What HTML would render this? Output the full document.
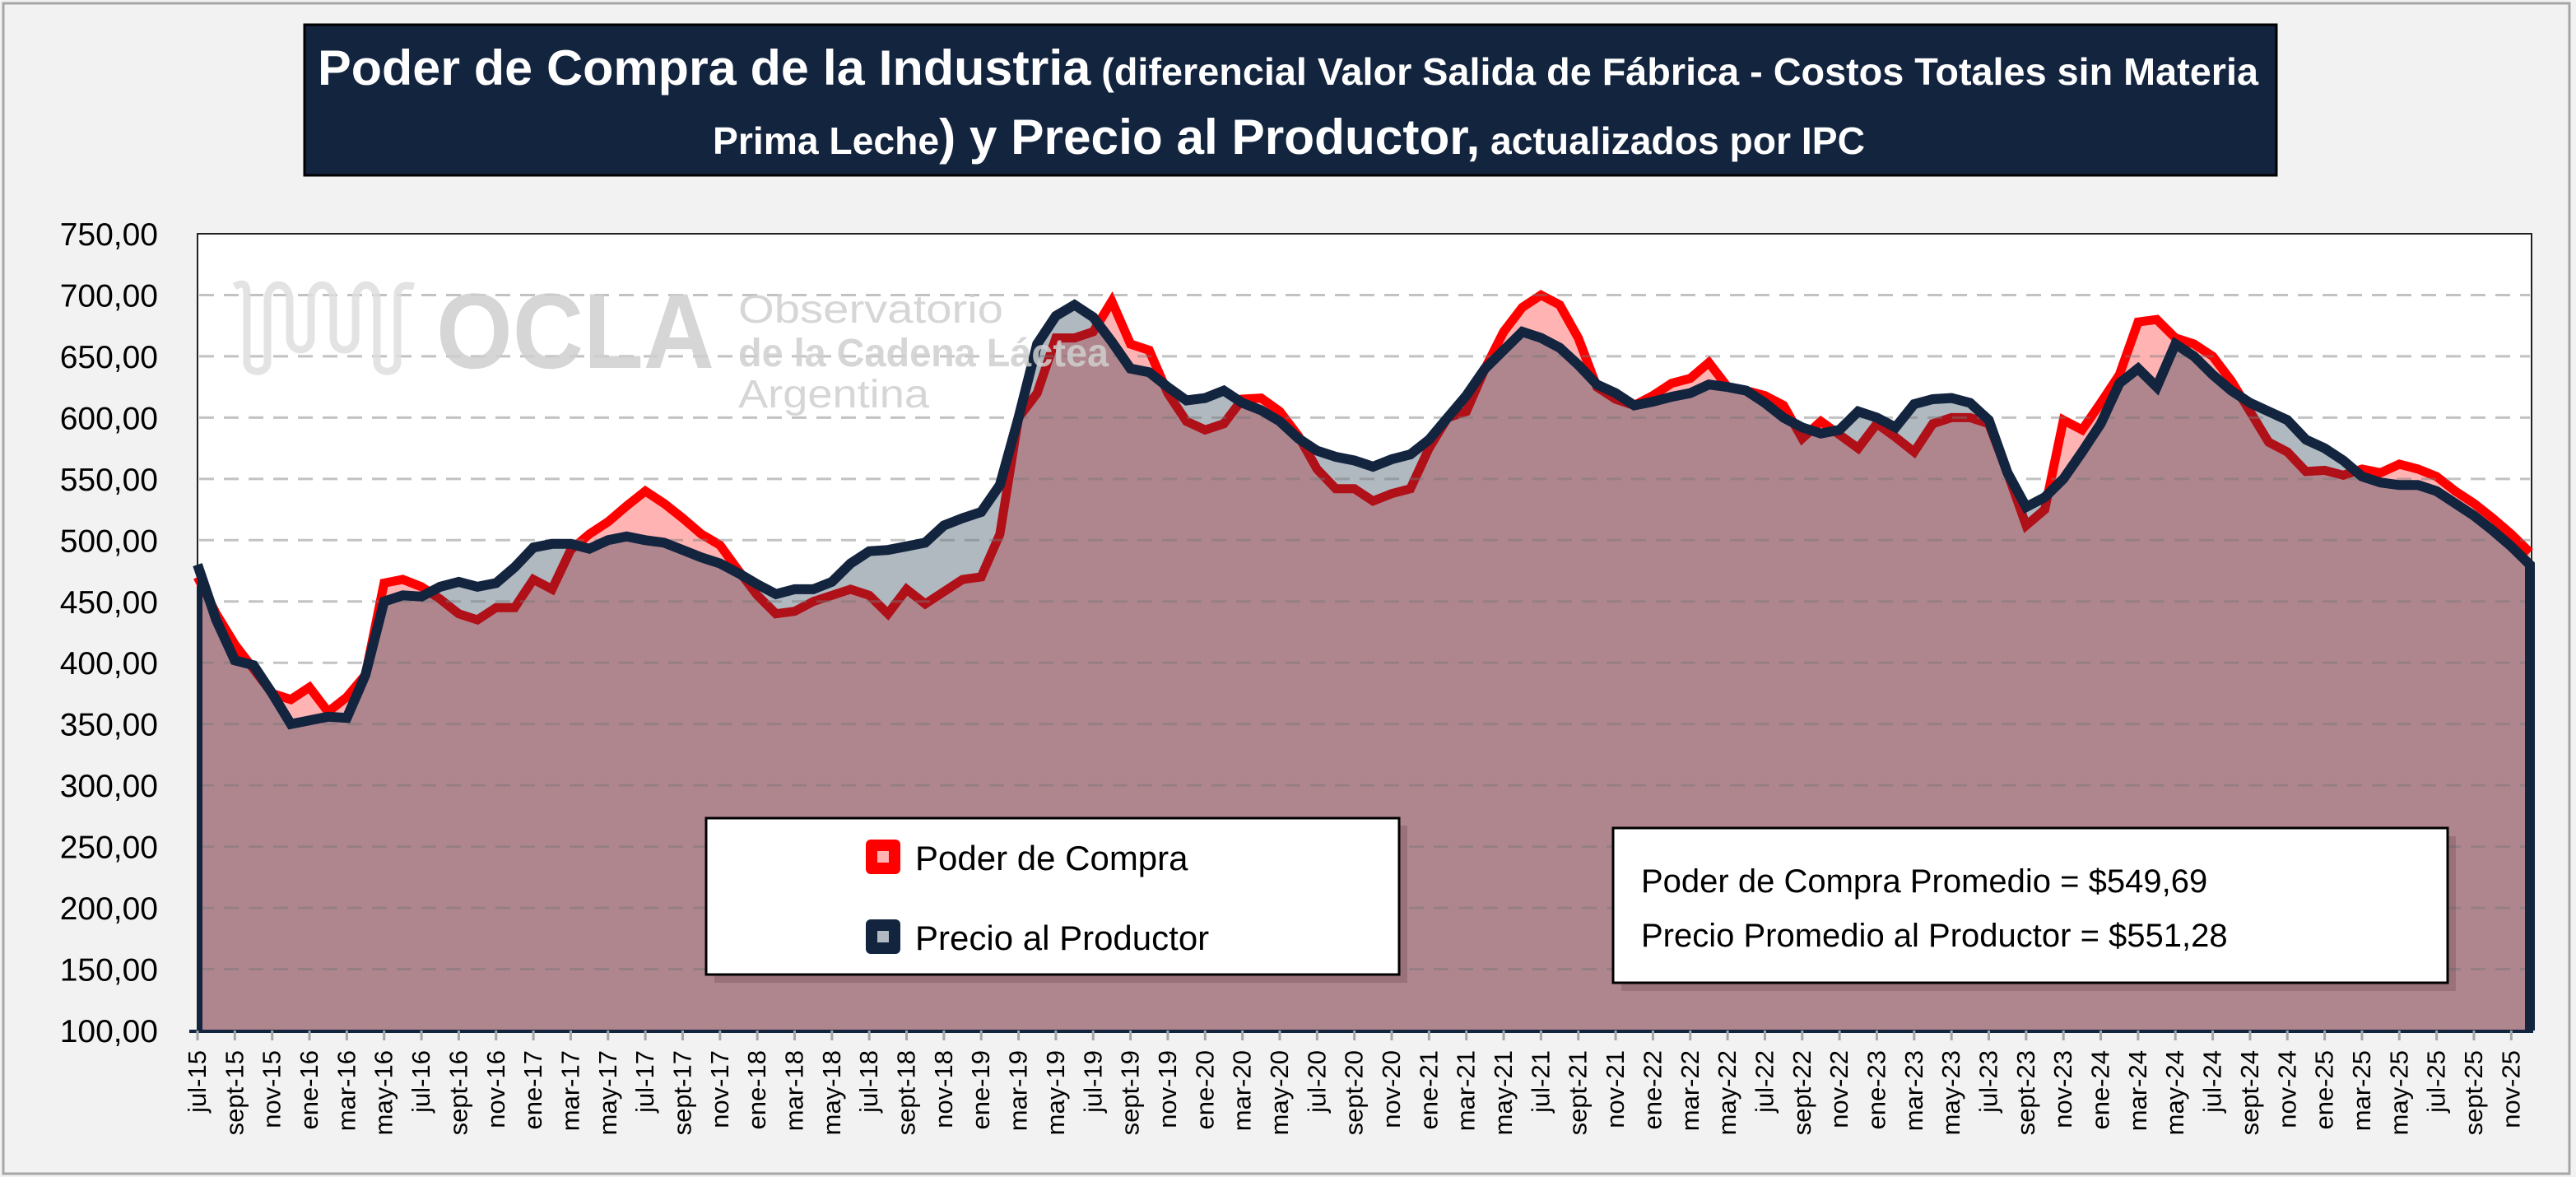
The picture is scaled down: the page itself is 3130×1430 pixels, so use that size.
<!DOCTYPE html>
<html><head><meta charset="utf-8"><style>
html,body{margin:0;padding:0;background:#f2f2f2;}
svg{display:block;font-family:"Liberation Sans",sans-serif;}
</style></head><body>
<svg id="chart" width="3130" height="1430" viewBox="0 0 3130 1430" xmlns="http://www.w3.org/2000/svg">
<rect x="4" y="4" width="3118" height="1422" fill="#f2f2f2" stroke="#a6a6a6" stroke-width="3"/>
<g>
<rect x="370" y="30" width="2396" height="183" fill="#13243f" stroke="#000" stroke-width="3"/>
<text x="386" y="103" fill="#fff" font-weight="bold" textLength="2358" lengthAdjust="spacingAndGlyphs"><tspan font-size="60">Poder de Compra de la Industria</tspan><tspan font-size="46"> (diferencial Valor Salida de Fábrica - Costos Totales sin Materia</tspan></text>
<text x="866" y="187" fill="#fff" font-weight="bold" textLength="1400" lengthAdjust="spacingAndGlyphs"><tspan font-size="46">Prima Leche</tspan><tspan font-size="60">) y Precio al Productor,</tspan><tspan font-size="46"> actualizados por IPC</tspan></text>
</g>
<rect x="240" y="284" width="2836" height="968" fill="#fff" stroke="#222" stroke-width="2"/>
<g id="series"></g>
<g id="grid"></g>
<g id="lines"></g>
<g id="watermark" fill="#cfcfcf" opacity="0.85">
<path d="M285,348 C300,340 300,350 300,360 L300,440 C300,455 325,455 325,440 L325,365 C325,340 352,340 352,365 L352,410 C352,430 378,430 378,410 L378,365 C378,340 405,340 405,365 L405,410 C405,430 432,430 432,410 L432,365 C432,340 458,340 458,365 L458,440 C458,455 483,455 483,440 L483,360 C483,348 490,345 503,348" fill="none" stroke="#dedede" stroke-width="9"/>
<text x="530" y="447" font-size="130" font-weight="bold" textLength="338" lengthAdjust="spacingAndGlyphs">OCLA</text>
<text x="897" y="392" font-size="48" textLength="322" lengthAdjust="spacingAndGlyphs">Observatorio</text>
<text x="897" y="445" font-size="48" font-weight="bold" textLength="450" lengthAdjust="spacingAndGlyphs">de la Cadena Láctea</text>
<text x="897" y="495" font-size="48" textLength="232" lengthAdjust="spacingAndGlyphs">Argentina</text>
</g>
<g id="axes"></g>
<g>
<rect x="868" y="1003" width="842" height="191" fill="#6e4a52" opacity="0.35"/>
<rect x="858" y="994" width="842" height="190" fill="#fff" stroke="#000" stroke-width="3"/>
<g>
<rect x="1052" y="1020" width="42" height="42" rx="6" fill="#ff0000"/>
<rect x="1066" y="1034" width="14" height="14" fill="#ffb3b3"/>
<text x="1112" y="1057" font-size="42" fill="#000">Poder de Compra</text>
</g>
<g>
<rect x="1052" y="1117" width="42" height="42" rx="6" fill="#13243f"/>
<rect x="1066" y="1131" width="14" height="14" fill="#b1b9c2"/>
<text x="1112" y="1154" font-size="42" fill="#000">Precio al Productor</text>
</g>
</g>
<g>
<rect x="1970" y="1016" width="1014" height="188" fill="#6e4a52" opacity="0.35"/>
<rect x="1960" y="1006" width="1014" height="188" fill="#fff" stroke="#000" stroke-width="3"/>
<text x="1994" y="1084" font-size="40" fill="#000">Poder de Compra Promedio = $549,69</text>
<text x="1994" y="1150" font-size="40" fill="#000">Precio Promedio al Productor = $551,28</text>
</g>
</svg>
<script>
const poderValues=[470,440,415,395,375,370,380,360,372,390,465,468,462,452,440,435,445,445,468,460,492,505,515,528,540,530,518,505,496,475,455,440,442,450,455,460,455,440,460,448,458,468,470,505,600,620,665,665,670,695,660,655,620,597,590,595,615,616,605,585,558,542,542,532,538,542,575,600,605,640,670,690,700,692,665,625,615,610,618,628,632,645,625,622,618,610,583,597,586,575,595,584,572,595,600,600,595,555,512,525,598,590,612,635,678,680,665,660,650,630,605,580,572,556,557,553,558,555,562,558,552,540,530,518,505,490];
const precioValues=[480,435,402,398,375,350,353,356,355,390,450,455,454,462,466,462,465,478,494,497,497,493,500,503,500,498,492,486,481,473,464,456,460,460,466,481,491,492,495,498,512,518,523,545,600,660,683,692,682,662,640,637,625,614,616,622,612,606,597,583,573,568,565,560,566,570,582,600,618,640,655,670,665,657,643,627,620,610,613,617,620,627,625,622,612,600,592,587,590,605,600,592,611,615,616,612,598,555,527,535,550,572,595,628,640,625,660,650,635,622,612,605,598,582,575,565,552,547,545,545,540,530,520,508,495,480];
const monthNames=["jul","ago","sept","oct","nov","dic","ene","feb","mar","abr","may","jun"];
const yTicks=[100,150,200,250,300,350,400,450,500,550,600,650,700,750];
const startYear=15;
const NS="http://www.w3.org/2000/svg";
const X0=240,X1=3074,Y0=1252,Y1=284,VMIN=100,VMAX=750;
const n=poderValues.length;
function xs(i){return X0+(X1-X0)*i/(n-1);}
function ys(v){return Y0-(v-VMIN)/(VMAX-VMIN)*(Y0-Y1);}
function mk(tag,attrs,parent){const e=document.createElementNS(NS,tag);for(const k in attrs)e.setAttribute(k,attrs[k]);parent.appendChild(e);return e;}
function linePts(arr){return arr.map((v,i)=>xs(i).toFixed(1)+","+ys(v).toFixed(1)).join(" ");}
function areaPts(arr){return xs(0)+","+Y0+" "+linePts(arr)+" "+xs(n-1)+","+Y0;}
const series=document.getElementById('series');
const redArea=mk('polygon',{points:areaPts(poderValues),fill:'#ffb3b3'},series);


const redLine=mk('polyline',{points:linePts(poderValues),fill:'none',stroke:'#ff0000','stroke-width':11,'stroke-linejoin':'miter'},series);


const blueArea=mk('polygon',{points:areaPts(precioValues),fill:'rgb(24,47,71)','fill-opacity':0.342},series);


const grid=document.getElementById('grid');
yTicks.forEach(v=>{
  if(v===VMIN||v===VMAX)return;
  const g=mk('line',{x1:X0+2,x2:X1,y1:ys(v),y2:ys(v),stroke:'rgba(120,120,120,0.45)','stroke-width':3,'stroke-dasharray':'18 12'},grid);
  
  
});
const lines=document.getElementById('lines');
const blueLine=mk('polyline',{points:linePts(precioValues)+" "+xs(n-1)+","+Y0,fill:'none',stroke:'#13243f','stroke-width':12,'stroke-linejoin':'miter'},lines);


const startEdge=mk('line',{x1:X0+3,x2:X0+3,y1:ys(precioValues[0]),y2:Y0,stroke:'#13243f','stroke-width':6},lines);


const axes=document.getElementById('axes');
mk('line',{x1:X0-10,x2:X1+4,y1:Y0+1,y2:Y0+1,stroke:'#13243f','stroke-width':4},axes);
yTicks.forEach(v=>{
  const t=mk('text',{x:192,y:ys(v)+14,'font-size':39,'text-anchor':'end',fill:'#000'},axes);
  t.textContent=v.toFixed(2).replace('.',',');
  
  
});
for(let i=0;i<n;i+=2){
  const x=xs(i);
  mk('line',{x1:x,x2:x,y1:Y0,y2:Y0+12,stroke:'#a6a6a6','stroke-width':3},axes);
  const m=i%12,yr=startYear+Math.floor((i+6)/12);
  const t=mk('text',{transform:'translate('+(x+10)+',1276) rotate(-90)','font-size':31,'text-anchor':'end',fill:'#000'},axes);
  t.textContent=monthNames[m]+"-"+yr;
  
  
}
</script>
</body></html>
